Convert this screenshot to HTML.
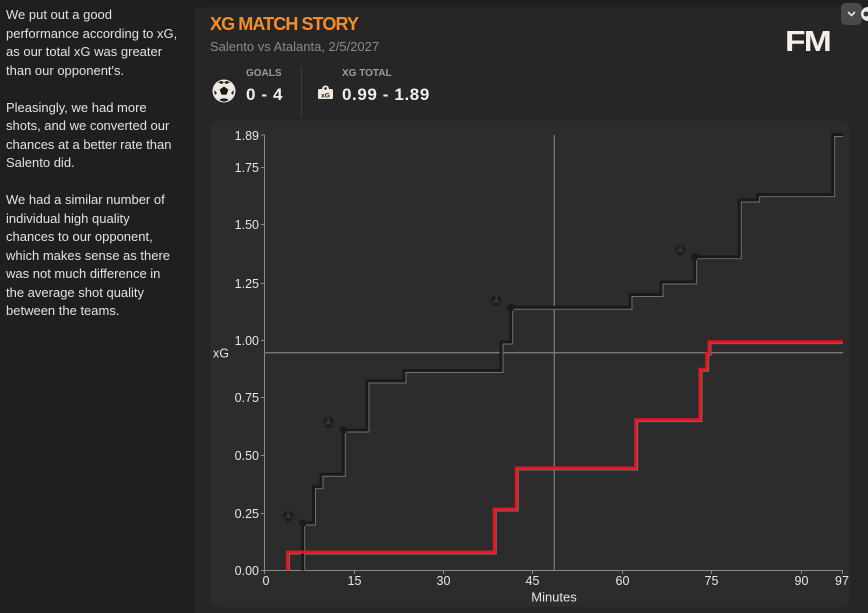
<!DOCTYPE html>
<html><head><meta charset="utf-8">
<style>
html,body{margin:0;padding:0;}
body{width:868px;height:613px;overflow:hidden;background:#1f1f1f;position:relative;font-family:"Liberation Sans",sans-serif;}
.lt{position:absolute;left:6px;top:6px;width:185px;font-size:13px;line-height:18.5px;color:#e2e2e2;}
.main{position:absolute;left:194px;top:7px;width:674px;height:606px;background:#262626;border-top-left-radius:9px;}
.chart{position:absolute;left:211px;top:121px;width:639px;height:486px;background:#2c2c2c;border-radius:8px;}
.title{position:absolute;left:210px;top:14px;font-size:18px;font-weight:bold;color:#f58d2a;letter-spacing:-0.9px;}
.sub{position:absolute;left:210px;top:39px;font-size:13px;color:#8a8a8a;}
.lbl{position:absolute;font-size:10px;font-weight:bold;color:#9c9c9c;}
.val{position:absolute;font-size:17px;font-weight:bold;color:#f3eee6;letter-spacing:0.6px;}
.div{position:absolute;left:301px;top:67px;width:1px;height:50px;background:#3c3c3c;}
.fm{position:absolute;left:785px;top:26px;font-size:29px;font-weight:900;color:#f5efe6;letter-spacing:-1.5px;transform:scaleX(1.16);transform-origin:left;}
.btn{position:absolute;left:841px;top:3px;width:21px;height:22px;background:#4a4a4a;border-radius:5px;}
</style></head><body>
<div class="lt">We put out a good<br>performance according to xG,<br>as our total xG was greater<br>than our opponent's.<br><br>Pleasingly, we had more<br>shots, and we converted our<br>chances at a better rate than<br>Salento did.<br><br>We had a similar number of<br>individual high quality<br>chances to our opponent,<br>which makes sense as there<br>was not much difference in<br>the average shot quality<br>between the teams.</div>
<div class="main"></div>
<div class="chart"></div>
<div class="title">XG MATCH STORY</div>
<div class="sub">Salento vs Atalanta, 2/5/2027</div>
<div class="lbl" style="left:246px;top:68px;">GOALS</div>
<div class="val" style="left:246px;top:85px;">0 - 4</div>
<div class="div"></div>
<div class="lbl" style="left:342px;top:68px;">XG TOTAL</div>
<div class="val" style="left:342px;top:85px;">0.99 - 1.89</div>
<div class="fm">FM</div>
<div class="btn"></div>
<svg width="868" height="613" style="position:absolute;left:0;top:0" xmlns="http://www.w3.org/2000/svg">
  <!-- header football -->
  <circle cx="224" cy="91" r="11.5" fill="#f0e8dc"/>
  <polygon points="224,86.5 228.3,89.6 226.6,94.6 221.4,94.6 219.7,89.6" fill="#1a1a1a"/>
  <path d="M218,82.5 L221,81 L224,82 L222,84 Z M230,82.5 L227,81 L224,82 L226,84 Z M214,90 L215,95 L217,93 Z M234,90 L233,95 L231,93 Z M219,100 L223,101.5 L225,101.5 L229,100 L226,98.5 L222,98.5 Z" fill="#1a1a1a"/>
  <!-- xG icon -->
  <rect x="318" y="89" width="15" height="10" rx="1.5" fill="#f0e8dc"/>
  <circle cx="325.5" cy="89" r="3.5" fill="#f0e8dc"/>
  <circle cx="325.5" cy="88.5" r="1.3" fill="#262626"/>
  <text x="325.5" y="97.5" font-family="Liberation Sans" font-size="6.5" font-weight="bold" fill="#1a1a1a" text-anchor="middle">xG</text>
  <!-- top right button chevron -->
  <polyline points="848,12 851.5,15.5 855,12" fill="none" stroke="#e8e8e8" stroke-width="1.6"/>
  <circle cx="868" cy="14" r="7" fill="#e8e8e8"/>
  <circle cx="866" cy="14" r="2.5" fill="#333"/>

  <!-- axes -->
  <g stroke="#8a8a8a" stroke-width="1">
    <line x1="264.5" y1="134.5" x2="264.5" y2="571"/>
    <line x1="264" y1="570.5" x2="843" y2="570.5"/>
    <line x1="261" y1="570.5" x2="264" y2="570.5"/>
    <line x1="261" y1="513.5" x2="264" y2="513.5"/>
    <line x1="261" y1="455.5" x2="264" y2="455.5"/>
    <line x1="261" y1="397.5" x2="264" y2="397.5"/>
    <line x1="261" y1="340.5" x2="264" y2="340.5"/>
    <line x1="261" y1="283.5" x2="264" y2="283.5"/>
    <line x1="261" y1="224.5" x2="264" y2="224.5"/>
    <line x1="261" y1="167.5" x2="264" y2="167.5"/>
    <line x1="261" y1="135" x2="264" y2="135"/>
    <line x1="264.5" y1="570" x2="264.5" y2="574"/>
    <line x1="354.5" y1="570" x2="354.5" y2="574"/>
    <line x1="443.5" y1="570" x2="443.5" y2="574"/>
    <line x1="532.5" y1="570" x2="532.5" y2="574"/>
    <line x1="622.5" y1="570" x2="622.5" y2="574"/>
    <line x1="711.5" y1="570" x2="711.5" y2="574"/>
    <line x1="801.5" y1="570" x2="801.5" y2="574"/>
    <line x1="842.5" y1="570" x2="842.5" y2="574"/>
  </g>
  <g font-family="Liberation Sans" font-size="12.5" fill="#e6e6e6" text-anchor="end">
    <text x="259" y="575">0.00</text>
    <text x="259" y="518">0.25</text>
    <text x="259" y="460">0.50</text>
    <text x="259" y="402">0.75</text>
    <text x="259" y="345">1.00</text>
    <text x="259" y="288">1.25</text>
    <text x="259" y="229">1.50</text>
    <text x="259" y="172">1.75</text>
    <text x="259" y="140">1.89</text>
  </g>
  <text x="221" y="357.5" font-family="Liberation Sans" font-size="12.5" fill="#e6e6e6" text-anchor="middle">xG</text>
  <g font-family="Liberation Sans" font-size="12.5" fill="#e6e6e6" text-anchor="middle">
    <text x="266" y="585">0</text>
    <text x="354.5" y="585">15</text>
    <text x="443.5" y="585">30</text>
    <text x="532.5" y="585">45</text>
    <text x="622.5" y="585">60</text>
    <text x="711.5" y="585">75</text>
    <text x="801.5" y="585">90</text>
    <text x="842" y="585">97</text>
  </g>
  <text x="554" y="601.5" font-family="Liberation Sans" font-size="13" fill="#e6e6e6" text-anchor="middle">Minutes</text>

  <!-- crosshair -->
  <line x1="264" y1="352.7" x2="843" y2="352.7" stroke="#7a7a7a" stroke-width="1.3"/>
  <line x1="554.3" y1="135" x2="554.3" y2="570" stroke="#7a7a7a" stroke-width="1.3"/>

  <!-- shadows -->
  <g transform="translate(1.8,1.8)" fill="none" stroke="#727272" stroke-width="1.3">
    <path d="M302.7,568.7 V523 H313.5 V486.7 H321 V474.3 H343.3 V430 H367 V381 H404 V370.5 H501 V342 H510.7 V307.3 H630 V294.5 H661 V282 H694.7 V256.7 H739.3 V200 H757.7 V194.7 H832.7 V134.5 H841"/>
    <path d="M287.5,568.7 V552 H494.3 V509 H516.3 V468 H635.7 V419.7 H700 V369.3 H706.7 V353.3 H709 V341.7 H841"/>
  </g>
  <!-- black line -->
  <path d="M302.7,570.5 V523 H313.5 V486.7 H321 V474.3 H343.3 V430 H367 V381 H404 V370.5 H501 V342 H510.7 V307.3 H630 V294.5 H661 V282 H694.7 V256.7 H739.3 V200 H757.7 V194.7 H832.7 V134.5 H843" fill="none" stroke="#1a1a1a" stroke-width="3"/>
  <!-- red line -->
  <path d="M287.5,570.5 V552 H494.3 V509 H516.3 V468 H635.7 V419.7 H700 V369.3 H706.7 V353.3 H709 V341.7 H843" fill="none" stroke="#e8141f" stroke-width="3"/>
  <!-- dots -->
  <g fill="#1a1a1a">
    <circle cx="302.7" cy="523" r="3.8"/>
    <circle cx="343.3" cy="430" r="3.8"/>
    <circle cx="510.7" cy="307.3" r="3.8"/>
    <circle cx="694.7" cy="256.7" r="3.8"/>
  </g>
  <!-- goal balls -->
  <g>
    <g transform="translate(288.3,516)"><circle r="5.5" fill="#1d1d1d"/><circle r="1.8" fill="#3c3c3c"/><circle cx="0" cy="-3.6" r="1" fill="#3c3c3c"/><circle cx="3.3" cy="1.8" r="1" fill="#3c3c3c"/><circle cx="-3.3" cy="1.8" r="1" fill="#3c3c3c"/></g>
    <g transform="translate(328.3,422.3)"><circle r="5.5" fill="#1d1d1d"/><circle r="1.8" fill="#3c3c3c"/><circle cx="0" cy="-3.6" r="1" fill="#3c3c3c"/><circle cx="3.3" cy="1.8" r="1" fill="#3c3c3c"/><circle cx="-3.3" cy="1.8" r="1" fill="#3c3c3c"/></g>
    <g transform="translate(496.3,300.7)"><circle r="5.5" fill="#1d1d1d"/><circle r="1.8" fill="#3c3c3c"/><circle cx="0" cy="-3.6" r="1" fill="#3c3c3c"/><circle cx="3.3" cy="1.8" r="1" fill="#3c3c3c"/><circle cx="-3.3" cy="1.8" r="1" fill="#3c3c3c"/></g>
    <g transform="translate(680.3,250)"><circle r="5.5" fill="#1d1d1d"/><circle r="1.8" fill="#3c3c3c"/><circle cx="0" cy="-3.6" r="1" fill="#3c3c3c"/><circle cx="3.3" cy="1.8" r="1" fill="#3c3c3c"/><circle cx="-3.3" cy="1.8" r="1" fill="#3c3c3c"/></g>
  </g>
</svg>
</body></html>
